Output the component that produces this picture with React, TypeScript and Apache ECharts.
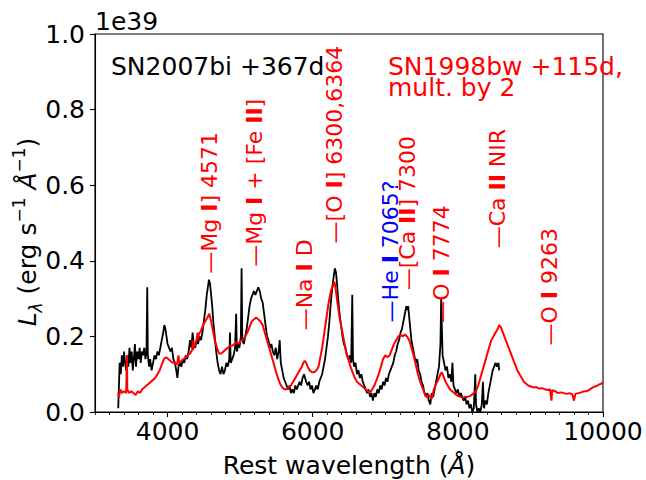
import React, { useEffect, useRef } from 'react';
import * as echarts from 'echarts';

const FONT = 'DejaVu Sans';

// SN2007bi +367d : [rest wavelength (Å), L_lambda (1e39 erg/s/Å)]
const sn2007biSpectrum: [number, number][] = [
  [3320, 0.01], [3330, 0.07], [3340, 0.13], [3355, 0.1], [3370, 0.15], [3385, 0.12], [3400, 0.16], [3415, 0.13],
  [3430, 0.11], [3445, 0.15], [3460, 0.12], [3475, 0.17], [3490, 0.13], [3505, 0.16], [3520, 0.11], [3535, 0.14],
  [3550, 0.18], [3565, 0.12], [3580, 0.16], [3600, 0.14], [3615, 0.17], [3630, 0.13], [3645, 0.16], [3660, 0.15],
  [3680, 0.17], [3695, 0.14], [3710, 0.16], [3720, 0.33], [3728, 0.15], [3745, 0.12], [3760, 0.14], [3780, 0.11],
  [3800, 0.13], [3820, 0.15], [3840, 0.14], [3860, 0.16], [3880, 0.15], [3900, 0.17], [3920, 0.19], [3940, 0.21],
  [3955, 0.23], [3970, 0.22], [3985, 0.2], [4000, 0.18], [4020, 0.17], [4040, 0.16], [4060, 0.17], [4080, 0.14],
  [4100, 0.13], [4120, 0.11], [4135, 0.09], [4150, 0.12], [4170, 0.13], [4190, 0.12], [4210, 0.14], [4230, 0.13],
  [4250, 0.15], [4270, 0.14], [4290, 0.16], [4310, 0.19], [4330, 0.17], [4345, 0.21], [4360, 0.18], [4380, 0.17],
  [4400, 0.19], [4420, 0.18], [4440, 0.2], [4460, 0.19], [4480, 0.21], [4500, 0.24], [4520, 0.27], [4540, 0.31],
  [4555, 0.33], [4570, 0.35], [4585, 0.34], [4600, 0.31], [4615, 0.28], [4630, 0.24], [4650, 0.2], [4670, 0.16],
  [4690, 0.13], [4710, 0.11], [4730, 0.1], [4750, 0.12], [4770, 0.1], [4790, 0.11], [4810, 0.13], [4830, 0.12],
  [4850, 0.14], [4860, 0.21], [4870, 0.13], [4890, 0.14], [4910, 0.15], [4930, 0.17], [4945, 0.26], [4955, 0.16],
  [4975, 0.18], [4990, 0.17], [5010, 0.2], [5020, 0.38], [5030, 0.19], [5050, 0.18], [5070, 0.2], [5090, 0.22],
  [5110, 0.25], [5130, 0.28], [5150, 0.3], [5170, 0.31], [5190, 0.32], [5210, 0.31], [5230, 0.32], [5250, 0.33],
  [5270, 0.32], [5290, 0.3], [5310, 0.29], [5330, 0.26], [5350, 0.23], [5370, 0.2], [5390, 0.19], [5410, 0.17],
  [5430, 0.18], [5450, 0.16], [5470, 0.15], [5490, 0.17], [5510, 0.14], [5530, 0.16], [5545, 0.19], [5560, 0.13],
  [5580, 0.11], [5600, 0.09], [5620, 0.08], [5640, 0.07], [5660, 0.06], [5680, 0.07], [5700, 0.05], [5720, 0.06],
  [5740, 0.05], [5760, 0.07], [5780, 0.06], [5800, 0.07], [5820, 0.08], [5840, 0.07], [5860, 0.09], [5880, 0.1],
  [5895, 0.09], [5910, 0.08], [5930, 0.07], [5950, 0.08], [5970, 0.06], [5990, 0.07], [6010, 0.05], [6030, 0.06],
  [6050, 0.07], [6070, 0.06], [6090, 0.08], [6110, 0.09], [6130, 0.1], [6150, 0.12], [6170, 0.14], [6190, 0.17],
  [6210, 0.2], [6230, 0.24], [6250, 0.29], [6270, 0.33], [6290, 0.36], [6305, 0.38], [6320, 0.37], [6335, 0.34],
  [6350, 0.3], [6370, 0.26], [6390, 0.23], [6410, 0.2], [6430, 0.18], [6450, 0.17], [6470, 0.15], [6490, 0.14],
  [6510, 0.15], [6530, 0.13], [6545, 0.31], [6555, 0.14], [6570, 0.12], [6590, 0.13], [6610, 0.1], [6630, 0.11],
  [6650, 0.09], [6670, 0.1], [6690, 0.08], [6710, 0.07], [6730, 0.06], [6750, 0.05], [6770, 0.06], [6790, 0.04],
  [6810, 0.05], [6830, 0.03], [6850, 0.05], [6870, 0.04], [6890, 0.06], [6910, 0.05], [6930, 0.07], [6950, 0.06],
  [6970, 0.08], [6990, 0.07], [7010, 0.09], [7030, 0.08], [7050, 0.1], [7070, 0.11], [7090, 0.12], [7110, 0.13],
  [7130, 0.15], [7150, 0.16], [7170, 0.18], [7190, 0.19], [7210, 0.21], [7230, 0.22], [7250, 0.24], [7270, 0.26],
  [7290, 0.28], [7300, 0.27], [7315, 0.28], [7330, 0.25], [7345, 0.22], [7360, 0.19], [7380, 0.17], [7400, 0.15],
  [7420, 0.13], [7440, 0.14], [7460, 0.11], [7480, 0.1], [7500, 0.08], [7520, 0.07], [7540, 0.05], [7560, 0.04],
  [7580, 0.05], [7600, 0.03], [7620, 0.02], [7640, 0.05], [7660, 0.04], [7680, 0.06], [7700, 0.08], [7720, 0.1],
  [7740, 0.12], [7760, 0.18], [7770, 0.3], [7780, 0.22], [7790, 0.15], [7810, 0.13], [7830, 0.11], [7850, 0.12],
  [7870, 0.09], [7890, 0.1], [7910, 0.08], [7925, 0.13], [7940, 0.07], [7960, 0.06], [7980, 0.05], [8000, 0.06],
  [8020, 0.04], [8040, 0.05], [8060, 0.04], [8080, 0.03], [8100, 0.04], [8120, 0.02], [8140, 0.03], [8160, 0.01],
  [8180, 0.02], [8200, 0.0], [8220, 0.01], [8240, 0.1], [8250, 0.02], [8270, 0.0], [8290, 0.01], [8310, 0.0],
  [8330, 0.02], [8345, 0.08], [8360, 0.01], [8380, 0.03], [8400, 0.02], [8420, 0.05], [8440, 0.07], [8460, 0.09],
  [8480, 0.11], [8500, 0.12], [8520, 0.13], [8540, 0.12], [8560, 0.13], [8570, 0.11],
];

// SN1998bw +115d, multiplied by 2
const sn1998bwSpectrum: [number, number][] = [
  [3320, 0.05], [3330, 0.04], [3350, 0.06], [3370, 0.05], [3400, 0.055], [3430, 0.05], [3440, 0.15], [3445, 0.06],
  [3470, 0.05], [3500, 0.055], [3530, 0.05], [3560, 0.045], [3590, 0.055], [3620, 0.05], [3650, 0.06], [3680, 0.065],
  [3710, 0.07], [3740, 0.075], [3770, 0.08], [3800, 0.085], [3830, 0.09], [3860, 0.1], [3890, 0.11], [3920, 0.125],
  [3950, 0.14], [3980, 0.145], [4010, 0.14], [4040, 0.135], [4070, 0.13], [4100, 0.13], [4130, 0.125], [4150, 0.15],
  [4160, 0.13], [4190, 0.135], [4220, 0.14], [4250, 0.145], [4280, 0.15], [4310, 0.155], [4340, 0.165], [4345, 0.19],
  [4350, 0.165], [4370, 0.175], [4400, 0.19], [4415, 0.21], [4420, 0.19], [4430, 0.205], [4460, 0.215], [4490, 0.23],
  [4520, 0.24], [4550, 0.25], [4575, 0.26], [4600, 0.24], [4620, 0.22], [4650, 0.19], [4680, 0.17], [4710, 0.155],
  [4740, 0.155], [4770, 0.16], [4800, 0.165], [4830, 0.17], [4860, 0.175], [4890, 0.175], [4920, 0.18], [4950, 0.185],
  [4980, 0.18], [5010, 0.19], [5040, 0.19], [5070, 0.2], [5100, 0.21], [5130, 0.225], [5160, 0.24], [5190, 0.245],
  [5220, 0.25], [5250, 0.245], [5280, 0.24], [5310, 0.23], [5340, 0.21], [5370, 0.19], [5400, 0.17], [5430, 0.15],
  [5460, 0.13], [5490, 0.11], [5520, 0.09], [5550, 0.075], [5580, 0.065], [5610, 0.06], [5640, 0.06], [5670, 0.065],
  [5700, 0.07], [5730, 0.08], [5760, 0.09], [5790, 0.1], [5820, 0.11], [5850, 0.12], [5870, 0.13], [5890, 0.135],
  [5910, 0.13], [5930, 0.12], [5960, 0.11], [5990, 0.105], [6020, 0.105], [6050, 0.11], [6080, 0.12], [6100, 0.14],
  [6130, 0.17], [6160, 0.21], [6190, 0.25], [6220, 0.29], [6250, 0.32], [6280, 0.335], [6300, 0.345], [6320, 0.32],
  [6340, 0.29], [6370, 0.25], [6400, 0.22], [6430, 0.19], [6460, 0.16], [6490, 0.14], [6520, 0.12], [6550, 0.105],
  [6580, 0.09], [6610, 0.08], [6640, 0.075], [6670, 0.07], [6700, 0.065], [6730, 0.06], [6760, 0.055], [6790, 0.052],
  [6820, 0.06], [6850, 0.07], [6880, 0.085], [6910, 0.1], [6940, 0.12], [6970, 0.14], [7000, 0.15], [7030, 0.145],
  [7060, 0.15], [7090, 0.165], [7120, 0.18], [7150, 0.19], [7180, 0.2], [7210, 0.205], [7240, 0.2], [7270, 0.205],
  [7300, 0.2], [7330, 0.19], [7360, 0.17], [7390, 0.15], [7420, 0.125], [7450, 0.1], [7480, 0.08], [7510, 0.065],
  [7540, 0.05], [7570, 0.04], [7600, 0.045], [7640, 0.035], [7670, 0.06], [7700, 0.075], [7730, 0.085], [7760, 0.1],
  [7780, 0.105], [7800, 0.095], [7830, 0.08], [7860, 0.07], [7890, 0.06], [7920, 0.055], [7950, 0.05], [7980, 0.045],
  [8010, 0.042], [8040, 0.04], [8070, 0.038], [8100, 0.04], [8130, 0.04], [8160, 0.042], [8190, 0.045], [8220, 0.05],
  [8250, 0.055], [8280, 0.07], [8310, 0.09], [8340, 0.11], [8370, 0.13], [8400, 0.15], [8430, 0.17], [8460, 0.19],
  [8490, 0.2], [8520, 0.21], [8550, 0.22], [8570, 0.23], [8590, 0.225], [8610, 0.215], [8640, 0.2], [8670, 0.185],
  [8700, 0.17], [8730, 0.155], [8760, 0.14], [8790, 0.125], [8820, 0.11], [8850, 0.1], [8880, 0.09], [8910, 0.08],
  [8940, 0.075], [8970, 0.07], [9000, 0.068], [9040, 0.065], [9080, 0.066], [9120, 0.062], [9160, 0.063], [9200, 0.06],
  [9240, 0.058], [9270, 0.06], [9290, 0.03], [9300, 0.058], [9340, 0.055], [9380, 0.05], [9420, 0.052], [9460, 0.05],
  [9500, 0.048], [9540, 0.05], [9580, 0.046], [9600, 0.03], [9620, 0.048], [9660, 0.05], [9700, 0.052], [9740, 0.055],
  [9780, 0.055], [9820, 0.06], [9860, 0.065], [9900, 0.068], [9940, 0.072], [9980, 0.075], [10000, 0.08],
];

const xTickValues = [4000, 6000, 8000, 10000];

// line identifications
const lineWaves = [4571, 5200, 5890, 6300, 7065, 7300, 7774, 8550, 9263];
const lineBottoms = [0.366, 0.384, 0.216, 0.446, 0.237, 0.322, 0.236, 0.433, 0.176];
const lineTexts = [
  '{r|—Mg }{b|I}{r|] 4571}',
  '{r|—Mg }{b|I}{r| + [Fe }{b|II}{r|]}',
  '{r|—Na }{b|I}{r| D}',
  '{r|—[O }{b|I}{r|] 6300,6364}',
  '{u|—He }{bb|I}{u| 7065?}',
  '{r|—[Ca }{b|II}{r|] 7300}',
  '{r|—O }{b|I}{r| 7774}',
  '{r|—Ca }{b|II}{r| NIR}',
  '{r|—O }{b|I}{r| 9263}',
];

export default function App() {
  const ref = useRef<HTMLDivElement>(null);
  useEffect(() => {
    const chart = echarts.init(ref.current!, null, { renderer: 'svg' });
    const option: any = {
      animation: false,
      backgroundColor: '#ffffff',
      textStyle: { fontFamily: FONT },
      grid: {
        left: 95, right: 43, top: 34, bottom: 68,
        show: true, borderColor: '#000', borderWidth: 1.1, backgroundColor: 'transparent',
        outerBoundsMode: 'none',
      },
      xAxis: [
        {
          type: 'value', min: 3000, max: 10000,
          axisLine: { show: true, lineStyle: { color: '#000', width: 1.1 } },
          axisTick: { show: true, customValues: xTickValues, length: 5, lineStyle: { color: '#000', width: 1.1 } },
          axisLabel: {
            customValues: xTickValues, fontSize: 25, color: '#000', fontFamily: FONT, margin: 7,
            formatter: (v: number) => String(Math.round(v)),
          },
          splitLine: { show: false },
        },
        {
          type: 'value', min: 3000, max: 10000, interval: 200, position: 'bottom', gridIndex: 0,
          axisLine: { show: false },
          axisTick: { show: true, length: 3, lineStyle: { color: '#000', width: 0.8 } },
          axisLabel: { show: false },
          splitLine: { show: false },
        },
      ],
      yAxis: {
        type: 'value', min: 0, max: 1, interval: 0.2,
        axisLine: { show: true, lineStyle: { color: '#000', width: 1.1 } },
        axisTick: { show: true, length: 5, lineStyle: { color: '#000', width: 1.1 } },
        axisLabel: { fontSize: 25, color: '#000', fontFamily: FONT, margin: 10, formatter: (v: number) => v.toFixed(1) },
        splitLine: { show: false },
      },
      series: [
        {
          type: 'line', name: 'SN2007bi', xAxisIndex: 0, data: sn2007biSpectrum, showSymbol: false, symbol: 'none',
          lineStyle: { color: '#000', width: 1.8 }, z: 2,
        },
        {
          type: 'line', name: 'SN1998bw', xAxisIndex: 0, data: sn1998bwSpectrum, showSymbol: false, symbol: 'none',
          lineStyle: { color: '#ff0000', width: 2 }, z: 3,
        },
        {
          type: 'scatter', xAxisIndex: 0, symbolSize: 0, silent: true, z: 5,
          itemStyle: { opacity: 1 },
          data: lineWaves.map((w, i) => ({
            value: [w, lineBottoms[i]],
            label: { formatter: lineTexts[i] },
          })),
          label: {
            show: true, position: [0, 0], rotate: 90, align: 'left', verticalAlign: 'middle',
            fontSize: 22, fontFamily: FONT, opacity: 1,
            rich: {
              r: { fontSize: 22, fontFamily: FONT, color: '#ff0000', opacity: 1 },
              u: { fontSize: 22, fontFamily: FONT, color: '#0000ff', opacity: 1 },
              b: { fontSize: 22, fontFamily: FONT, fontWeight: 'bold', color: '#ff0000', opacity: 1 },
              bb: { fontSize: 22, fontFamily: FONT, fontWeight: 'bold', color: '#0000ff', opacity: 1 },
            },
          },
        },
      ],
      graphic: [
        {
          type: 'text', x: 95, y: 21.5,
          style: { text: '1e39', fontSize: 25, fontFamily: FONT, fill: '#000', align: 'left', textAlign: 'left', verticalAlign: 'middle', textVerticalAlign: 'middle' },
        },
        {
          type: 'text', x: 111, y: 66.5,
          style: { text: 'SN2007bi +367d', fontSize: 25, fontFamily: FONT, fill: '#000', align: 'left', textAlign: 'left', verticalAlign: 'middle', textVerticalAlign: 'middle' },
        },
        {
          type: 'text', x: 388, y: 66.5,
          style: { text: 'SN1998bw +115d,', fontSize: 25, fontFamily: FONT, fill: '#ff0000', align: 'left', textAlign: 'left', verticalAlign: 'middle', textVerticalAlign: 'middle' },
        },
        {
          type: 'text', x: 388, y: 87.5,
          style: { text: 'mult. by 2', fontSize: 25, fontFamily: FONT, fill: '#ff0000', align: 'left', textAlign: 'left', verticalAlign: 'middle', textVerticalAlign: 'middle' },
        },
        {
          type: 'text', x: 349, y: 465,
          style: {
            text: 'Rest wavelength ({it|Å})',
            fontSize: 25, fontFamily: FONT, fill: '#000', align: 'center', textAlign: 'center', verticalAlign: 'middle', textVerticalAlign: 'middle',
            rich: { it: { fontSize: 25, fontFamily: FONT, fontStyle: 'italic', fill: '#000' } },
          },
        },
        {
          type: 'text', x: 27, y: 232, rotation: Math.PI / 2,
          style: {
            text: '{it|L}{sub|λ}{n| (erg s}{sup|−1}{n| }{it|Å}{sup|−1}{n|)}',
            fontSize: 25, fontFamily: FONT, fill: '#000', align: 'center', textAlign: 'center', verticalAlign: 'middle', textVerticalAlign: 'middle',
            rich: {
              n: { fontSize: 25, fontFamily: FONT, lineHeight: 34, fill: '#000' },
              it: { fontSize: 25, fontFamily: FONT, fontStyle: 'italic', lineHeight: 34, fill: '#000' },
              sub: { fontSize: 17, fontFamily: FONT, fontStyle: 'italic', lineHeight: 18, verticalAlign: 'bottom', fill: '#000' },
              sup: { fontSize: 17, fontFamily: FONT, lineHeight: 24, verticalAlign: 'top', fill: '#000' },
            },
          },
        },
      ],
    };
    chart.setOption(option);
    return () => chart.dispose();
  }, []);
  return <div ref={ref} style={{ position: 'absolute', left: 0, top: 0, width: 646, height: 480, background: '#fff' }} />;
}
